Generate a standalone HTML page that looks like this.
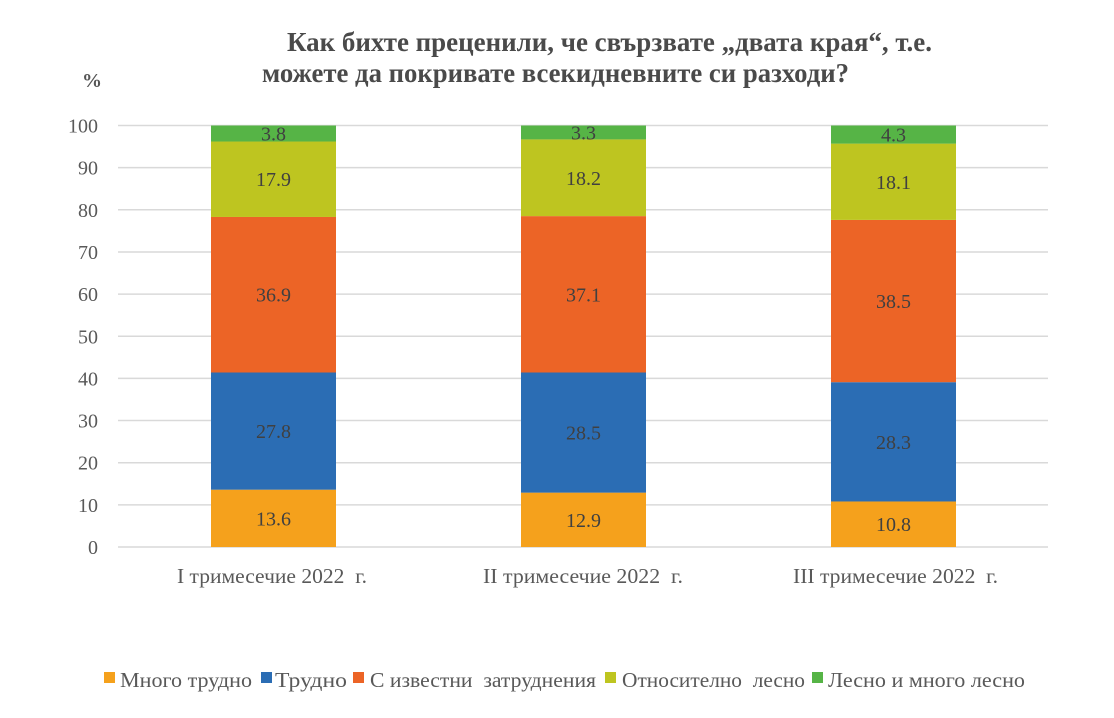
<!DOCTYPE html>
<html>
<head>
<meta charset="utf-8">
<style>
html,body{margin:0;padding:0;background:#fff;}
svg{display:block;}
text{font-family:"Liberation Serif","Noto Serif CJK SC",serif;}
</style>
</head>
<body>
<svg width="1114" height="718" viewBox="0 0 1114 718" xmlns="http://www.w3.org/2000/svg">
<rect width="1114" height="718" fill="#fff"/>
<!-- Title -->
<text x="287" y="51" font-size="27" font-weight="bold" fill="#4a4a4a" textLength="645" lengthAdjust="spacingAndGlyphs">Как бихте преценили, че свързвате „двата края“, т.е.</text>
<text x="262" y="82" font-size="27" font-weight="bold" fill="#4a4a4a" textLength="587" lengthAdjust="spacingAndGlyphs">можете да покривате всекидневните си разходи?</text>
<text x="82" y="87" font-size="20" font-weight="bold" fill="#555">%</text>

<!-- Gridlines -->
<g stroke="#d9d9d9" stroke-width="1.5">
<line x1="118" x2="1048" y1="547" y2="547"/>
<line x1="118" x2="1048" y1="504.85" y2="504.85"/>
<line x1="118" x2="1048" y1="462.7" y2="462.7"/>
<line x1="118" x2="1048" y1="420.55" y2="420.55"/>
<line x1="118" x2="1048" y1="378.4" y2="378.4"/>
<line x1="118" x2="1048" y1="336.25" y2="336.25"/>
<line x1="118" x2="1048" y1="294.1" y2="294.1"/>
<line x1="118" x2="1048" y1="251.95" y2="251.95"/>
<line x1="118" x2="1048" y1="209.8" y2="209.8"/>
<line x1="118" x2="1048" y1="167.65" y2="167.65"/>
<line x1="118" x2="1048" y1="125.5" y2="125.5"/>
</g>

<!-- Y labels -->
<g font-size="20" fill="#595959" text-anchor="end">
<text x="98" y="554">0</text>
<text x="98" y="511.85">10</text>
<text x="98" y="469.7">20</text>
<text x="98" y="427.55">30</text>
<text x="98" y="385.4">40</text>
<text x="98" y="343.25">50</text>
<text x="98" y="301.1">60</text>
<text x="98" y="258.95">70</text>
<text x="98" y="216.8">80</text>
<text x="98" y="174.65">90</text>
<text x="98" y="132.5">100</text>
</g>

<!-- Bar 1 -->
<rect x="211" y="489.68" width="125" height="57.32" fill="#F5A11C"/>
<rect x="211" y="372.5" width="125" height="117.18" fill="#2B6DB4"/>
<rect x="211" y="216.97" width="125" height="155.53" fill="#EC6426"/>
<rect x="211" y="141.52" width="125" height="75.45" fill="#BEC520"/>
<rect x="211" y="125.5" width="125" height="16.02" fill="#56B446"/>
<!-- Bar 2 -->
<rect x="521" y="492.63" width="125" height="54.37" fill="#F5A11C"/>
<rect x="521" y="372.5" width="125" height="120.13" fill="#2B6DB4"/>
<rect x="521" y="216.12" width="125" height="156.38" fill="#EC6426"/>
<rect x="521" y="139.41" width="125" height="76.71" fill="#BEC520"/>
<rect x="521" y="125.5" width="125" height="13.91" fill="#56B446"/>
<!-- Bar 3 -->
<rect x="831" y="501.48" width="125" height="45.52" fill="#F5A11C"/>
<rect x="831" y="382.19" width="125" height="119.29" fill="#2B6DB4"/>
<rect x="831" y="219.92" width="125" height="162.27" fill="#EC6426"/>
<rect x="831" y="143.62" width="125" height="76.3" fill="#BEC520"/>
<rect x="831" y="125.5" width="125" height="18.12" fill="#56B446"/>

<!-- Data labels -->
<g font-size="20" fill="#404040" text-anchor="middle">
<text x="273.5" y="525.3">13.6</text>
<text x="273.5" y="438">27.8</text>
<text x="273.5" y="301.7">36.9</text>
<text x="273.5" y="186.2">17.9</text>
<text x="273.5" y="140.5">3.8</text>

<text x="583.5" y="526.8">12.9</text>
<text x="583.5" y="439.6">28.5</text>
<text x="583.5" y="301.3">37.1</text>
<text x="583.5" y="184.8">18.2</text>
<text x="583.5" y="139.5">3.3</text>

<text x="893.5" y="531.2">10.8</text>
<text x="893.5" y="448.8">28.3</text>
<text x="893.5" y="308.1">38.5</text>
<text x="893.5" y="188.8">18.1</text>
<text x="893.5" y="141.6">4.3</text>
</g>

<!-- Category labels -->
<g font-size="21" fill="#595959">
<text x="177" y="583" textLength="190" lengthAdjust="spacingAndGlyphs">I тримесечие 2022&#160; г.</text>
<text x="483" y="583" textLength="200" lengthAdjust="spacingAndGlyphs">II тримесечие 2022&#160; г.</text>
<text x="793" y="583" textLength="205" lengthAdjust="spacingAndGlyphs">III тримесечие 2022&#160; г.</text>
</g>

<!-- Legend -->
<rect x="104" y="672" width="11" height="11" fill="#F5A11C"/>
<rect x="261" y="672" width="11" height="11" fill="#2B6DB4"/>
<rect x="353" y="672" width="11" height="11" fill="#EC6426"/>
<rect x="605" y="672" width="11" height="11" fill="#BEC520"/>
<rect x="812" y="672" width="11" height="11" fill="#56B446"/>
<g font-size="21" fill="#595959">
<text x="120" y="687" textLength="132" lengthAdjust="spacingAndGlyphs">Много трудно</text>
<text x="275" y="687" textLength="72" lengthAdjust="spacingAndGlyphs">Трудно</text>
<text x="370" y="687" textLength="226" lengthAdjust="spacingAndGlyphs">С известни&#160; затруднения</text>
<text x="622" y="687" textLength="183" lengthAdjust="spacingAndGlyphs">Относително&#160; лесно</text>
<text x="828" y="687" textLength="197" lengthAdjust="spacingAndGlyphs">Лесно и много лесно</text>
</g>
</svg>
</body>
</html>
